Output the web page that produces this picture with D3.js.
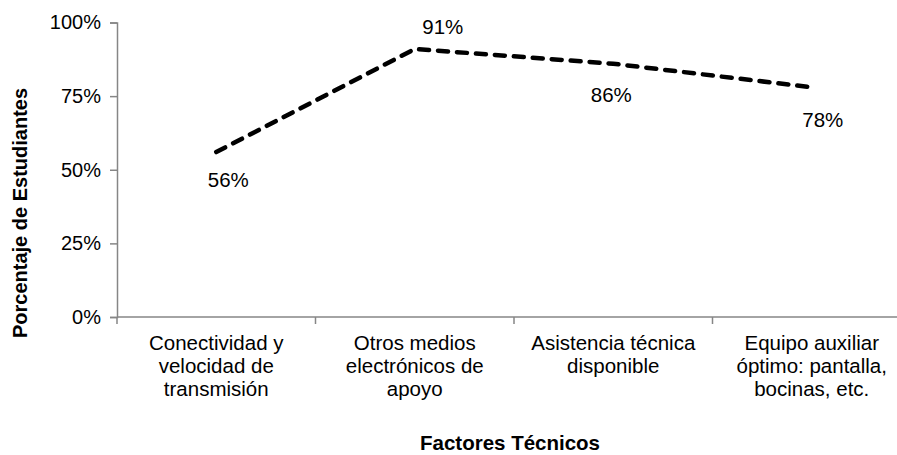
<!DOCTYPE html>
<html>
<head>
<meta charset="utf-8">
<script src="https://cdn.jsdelivr.net/npm/d3@7"></script>
<style>
  body { margin: 0; background: #fff; }
  text { font-family: "Liberation Sans", Arial, sans-serif; fill: #000; }
</style>
</head>
<body>
<div id="chart"></div>
<script>
// chart data
const categories = [
  'Conectividad y velocidad de transmisión',
  'Otros medios electrónicos de apoyo',
  'Asistencia técnica disponible',
  'Equipo auxiliar óptimo: pantalla, bocinas, etc.'
]
// how the tick labels wrap
const categoryLines = [
  ['Conectividad y', 'velocidad de', 'transmisión'],
  ['Otros medios', 'electrónicos de', 'apoyo'],
  ['Asistencia técnica', 'disponible'],
  ['Equipo auxiliar', 'óptimo: pantalla,', 'bocinas, etc.']
]
const values = [0.56, 0.91, 0.86, 0.78]
const yTicks = [0, 0.25, 0.5, 0.75, 1]
const yTitle = 'Porcentaje de Estudiantes'
const xTitle = 'Factores Técnicos'

// label placement relative to each point (layout only)
const labelShift = [[12, 35], [28, -15], [-2, 38], [11, 40]]

const W = 897, H = 455
const plotLeft = 117, plotRight = 911, plotTop = 22.5, plotBottom = 317

let svg = d3.select('#chart')
  .append('svg')
  .attr('width', W)
  .attr('height', H)

let x = d3.scaleBand()
  .domain(categories)
  .range([plotLeft, plotRight])

let y = d3.scaleLinear()
  .domain([0, 1])
  .range([plotBottom, plotTop])

// y axis
let yAxis = svg.append('g')
  .attr('transform', `translate(${plotLeft},0)`)
  .call(d3.axisLeft(y).tickValues(yTicks).tickFormat(d3.format('.0%')).tickSizeOuter(0).tickSize(7).tickPadding(9))
yAxis.select('.domain').attr('stroke', '#868686').attr('stroke-width', 1.5)
yAxis.selectAll('.tick line').attr('stroke', '#868686').attr('stroke-width', 1.5)
yAxis.selectAll('.tick text')
  .attr('font-size', 20)
  .attr('font-family', '"Liberation Sans", Arial, sans-serif')
  .attr('fill', '#000')

// x axis: ticks sit on band edges
let edges = categories.map(c => x(c)).concat([plotRight])
let xg = svg.append('g')
xg.append('line')
  .attr('x1', plotLeft).attr('x2', plotRight)
  .attr('y1', plotBottom).attr('y2', plotBottom)
  .attr('stroke', '#868686').attr('stroke-width', 1.5)
xg.selectAll('.xtick')
  .data(edges)
  .enter()
  .append('line')
  .attr('x1', d => d).attr('x2', d => d)
  .attr('y1', plotBottom).attr('y2', plotBottom + 7)
  .attr('stroke', '#868686').attr('stroke-width', 1.5)

let catText = xg.selectAll('.cat')
  .data(categories)
  .enter()
  .append('text')
  .attr('class', 'cat')
  .attr('text-anchor', 'middle')
  .attr('font-size', 20.5)
  .attr('x', d => x(d) + x.bandwidth() / 2)
  .attr('y', 350)
catText.selectAll('tspan')
  .data((d, i) => categoryLines[i])
  .enter()
  .append('tspan')
  .attr('x', function() { return this.parentNode.getAttribute('x') })
  .attr('dy', (d, i) => i === 0 ? 0 : 23)
  .text(d => d)

// dashed line
let line = d3.line()
  .x((d, i) => x(categories[i]) + x.bandwidth() / 2)
  .y(d => y(d))

svg.append('path')
  .datum(values)
  .attr('d', line)
  .attr('fill', 'none')
  .attr('stroke', '#000')
  .attr('stroke-width', 4.5)
  .attr('stroke-linecap', 'round')
  .attr('stroke-dasharray', '10,9')

// value labels
svg.selectAll('.val')
  .data(values)
  .enter()
  .append('text')
  .attr('class', 'val')
  .attr('text-anchor', 'middle')
  .attr('font-size', 20.5)
  .attr('x', (d, i) => x(categories[i]) + x.bandwidth() / 2 + labelShift[i][0])
  .attr('y', (d, i) => y(d) + labelShift[i][1])
  .text(d => d3.format('.0%')(d))

// axis titles
svg.append('text')
  .attr('text-anchor', 'middle')
  .attr('font-weight', 'bold')
  .attr('font-size', 20.5)
  .attr('x', 510)
  .attr('y', 450)
  .text(xTitle)

svg.append('text')
  .attr('text-anchor', 'middle')
  .attr('font-weight', 'bold')
  .attr('font-size', 20)
  .attr('transform', 'translate(27,213) rotate(-90)')
  .text(yTitle)
</script>
</body>
</html>
